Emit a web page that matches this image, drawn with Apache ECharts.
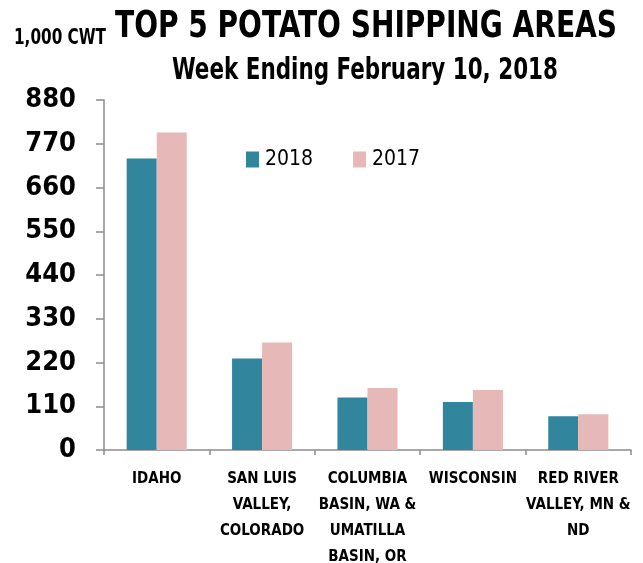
<!DOCTYPE html>
<html>
<head>
<meta charset="utf-8">
<script src="https://cdn.jsdelivr.net/npm/echarts@6/dist/echarts.min.js"></script>
<style>html,body{margin:0;padding:0;background:#fff}#c{width:643px;height:563px}</style>
</head>
<body>
<div id="c"></div>
<script>
const categories = ['IDAHO', 'SAN LUIS\nVALLEY,\nCOLORADO', 'COLUMBIA\nBASIN, WA &\nUMATILLA\nBASIN, OR', 'WISCONSIN', 'RED RIVER\nVALLEY, MN &\nND'];
const values2018 = [733, 230, 132, 121, 85];
const values2017 = [798, 270, 156, 151, 90];
const seriesNames = ['2018', '2017'];
const yTicks = [0, 110, 220, 330, 440, 550, 660, 770, 880];
const titleText = 'TOP 5 POTATO SHIPPING AREAS';
const unitText = '1,000 CWT';
const subtitleText = 'Week Ending February 10, 2018';

const FONT = '"Liberation Sans Narrow", "DejaVu Sans Condensed", "Liberation Sans", sans-serif';
const mctx = document.createElement('canvas').getContext('2d');
function fitText(text, size, left, right, cy) {
  mctx.font = 'bold ' + size + 'px ' + FONT;
  const w = mctx.measureText(text).width;
  const s = (right - left) / w;
  return {
    type: 'text', x: left, y: cy, scaleX: s, scaleY: 1, originX: 0, originY: 0,
    style: { text: text, fontFamily: FONT, fontWeight: 'bold', fontSize: size,
      fill: '#000', textAlign: 'left', textVerticalAlign: 'middle', verticalAlign: 'middle' }
  };
}

const chart = echarts.init(document.getElementById('c'));
chart.setOption({
  backgroundColor: '#fff',
  animation: false,
  graphic: [
    fitText(titleText, 37, 115, 617, 27),
    fitText(unitText, 21, 14, 106, 39),
    fitText(subtitleText, 30, 172, 558, 71)
  ],
  legend: {
    data: seriesNames, left: 241, top: 144, itemWidth: 13, itemHeight: 16, itemGap: 40,
    icon: 'rect',
    textStyle: { fontFamily: FONT, fontSize: 21, color: '#000', padding: [0, 0, 0, 1] }
  },
  grid: { left: 104, right: 12, top: 100, bottom: 113, containLabel: false, outerBoundsMode: 'none' },
  xAxis: {
    type: 'category', data: categories,
    axisLine: { lineStyle: { color: '#8c8c8c', width: 1.5 } },
    axisTick: { show: true, length: 5, lineStyle: { color: '#8c8c8c', width: 1.5 } },
    axisLabel: { interval: 0, margin: 16, lineHeight: 26,
      fontFamily: FONT, fontWeight: 'bold', fontSize: 15, color: '#000' }
  },
  yAxis: {
    type: 'value', min: 0, max: 880, interval: 110,
    splitLine: { show: false },
    axisLine: { show: true, lineStyle: { color: '#8c8c8c', width: 1.5 } },
    axisTick: { show: true, length: 8, lineStyle: { color: '#8c8c8c', width: 1.5 } },
    axisLabel: { margin: 28, fontFamily: FONT, fontWeight: 'bold', fontSize: 27, color: '#000',
      formatter: function (v) { return yTicks.indexOf(v) >= 0 ? String(v) : ''; } }
  },
  series: [
    { name: seriesNames[0], type: 'bar', data: values2018, barGap: '0%', barCategoryGap: '43%',
      itemStyle: { color: '#31859C' } },
    { name: seriesNames[1], type: 'bar', data: values2017,
      itemStyle: { color: '#E6B9B8' } }
  ]
});
</script>
</body>
</html>
